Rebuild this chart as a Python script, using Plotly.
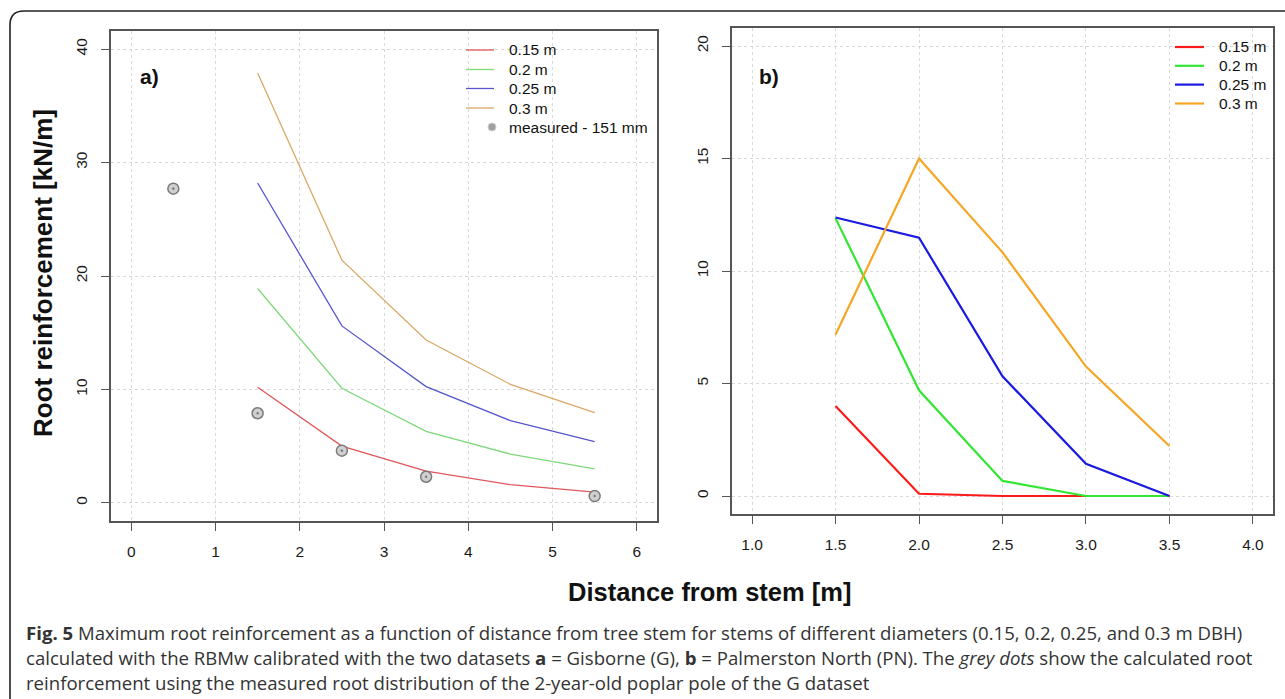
import plotly.graph_objects as go

# ---------------- data ----------------
dist_a = [1.5, 2.5, 3.5, 4.5, 5.5]
a_015 = [10.2, 5.0, 2.8, 1.6, 0.95]
a_020 = [18.9, 10.1, 6.3, 4.3, 3.0]
a_025 = [28.2, 15.6, 10.25, 7.25, 5.4]
a_030 = [37.9, 21.4, 14.35, 10.45, 7.95]
meas_x = [0.5, 1.5, 2.5, 3.5, 5.5]
meas_y = [27.7, 7.9, 4.6, 2.3, 0.6]

dist_b = [1.5, 2.0, 2.5, 3.0, 3.5]
b_015 = [4.0, 0.1, 0.0, 0.0, 0.0]
b_020 = [12.35, 4.7, 0.67, 0.0, 0.0]
b_025 = [12.38, 11.48, 5.32, 1.43, 0.0]
b_030 = [7.17, 15.0, 10.83, 5.75, 2.22]

labels = ["0.15 m", "0.2 m", "0.25 m", "0.3 m"]
meas_label = "measured - 151 mm"

xticks_a = [0, 1, 2, 3, 4, 5, 6]
yticks_a = [0, 10, 20, 30, 40]
xticks_b = [1.0, 1.5, 2.0, 2.5, 3.0, 3.5, 4.0]
xticklabels_b = ["1.0", "1.5", "2.0", "2.5", "3.0", "3.5", "4.0"]
yticks_b = [0, 5, 10, 15, 20]

colors_a = ["#e0575a", "#7fd97b", "#5656cf", "#d9a865"]
colors_b = ["#ff1a1a", "#33e633", "#1a1ae0", "#f5a623"]
meas_fill = "#d0d0d0"
meas_edge = "#7a7a7a"

W, H = 1285, 699
FONT = "Liberation Sans, Arial, sans-serif"
CAP_FONT = "Open Sans"

fig = go.Figure()

for ys, lab, c in zip([a_015, a_020, a_025, a_030], labels, colors_a):
    fig.add_trace(go.Scatter(x=dist_a, y=ys, mode="lines", name=lab,
                             line=dict(color=c, width=1.3),
                             xaxis="x", yaxis="y"))
fig.add_trace(go.Scatter(x=meas_x, y=meas_y, mode="markers", name=meas_label,
                         marker=dict(symbol="circle-dot", size=11, color=meas_fill,
                                     line=dict(color=meas_edge, width=1.5)),
                         xaxis="x", yaxis="y"))

for ys, lab, c in zip([b_015, b_020, b_025, b_030], labels, colors_b):
    fig.add_trace(go.Scatter(x=dist_b, y=ys, mode="lines", name=lab,
                             line=dict(color=c, width=2.2),
                             xaxis="x2", yaxis="y2"))


def px(x):
    return x / W


def py(y):
    return 1 - y / H


axis_common = dict(
    showline=True, mirror=True, linecolor="#555555", linewidth=1.5,
    ticks="outside", ticklen=8, tickcolor="#555555", tickwidth=1.2,
    showgrid=True, gridcolor="#d9d9d9", griddash="dot", gridwidth=1,
    zeroline=False, tickfont=dict(family=FONT, size=15.5, color="#1a1a1a"),
    ticklabelstandoff=8,
)

fig.update_layout(
    width=W, height=H,
    margin=dict(l=0, r=0, t=0, b=0),
    paper_bgcolor="white", plot_bgcolor="white",
    showlegend=False,
    xaxis=dict(domain=[px(111), px(657)], range=[-0.24, 6.24],
               tickvals=xticks_a, anchor="y", **axis_common),
    yaxis=dict(domain=[py(521), py(31)], range=[-1.6, 41.6],
               tickvals=yticks_a, tickangle=-90, anchor="x", **axis_common),
    xaxis2=dict(domain=[px(732), px(1273)], range=[0.88, 4.12],
                tickvals=xticks_b, ticktext=xticklabels_b, anchor="y2", **axis_common),
    yaxis2=dict(domain=[py(514), py(28)], range=[-0.8, 20.8],
                tickvals=yticks_b, tickangle=-90, anchor="x2", **axis_common),
)

annotations = [
    dict(text="<b>a)</b>", x=px(138), y=py(76), xanchor="left", yanchor="middle",
         font=dict(family=FONT, size=21, color="#111")),
    dict(text="<b>b)</b>", x=px(757), y=py(76), xanchor="left", yanchor="middle",
         font=dict(family=FONT, size=21, color="#111")),
    dict(text="<b>Root reinforcement [kN/m]</b>", x=px(43), y=py(273), textangle=-90,
         xanchor="center", yanchor="middle", font=dict(family=FONT, size=26, color="#111")),
    dict(text="<b>Distance from stem [m]</b>", x=px(709), y=py(592),
         xanchor="center", yanchor="middle", font=dict(family=FONT, size=25.5, color="#111")),
]

cap_lines = [
    "<b>Fig. 5</b> Maximum root reinforcement as a function of distance from tree stem for stems of different diameters (0.15, 0.2, 0.25, and 0.3 m DBH)",
    "calculated with the RBMw calibrated with the two datasets <b>a</b> = Gisborne (G), <b>b</b> = Palmerston North (PN). The <i>grey dots</i> show the calculated root",
    "reinforcement using the measured root distribution of the 2-year-old poplar pole of the G dataset",
]
for i, t in enumerate(cap_lines):
    annotations.append(dict(text=t, x=px(24), y=py(632 + 25 * i), xanchor="left",
                            yanchor="middle",
                            font=dict(family=CAP_FONT, size=18.6, color="#333")))

shapes = []

# legend of panel a (drawn from labels / colours)
rows_a = [50, 69.5, 88.5, 108, 127]
for lab, c, yy in zip(labels, colors_a, rows_a):
    shapes.append(dict(type="line", xref="paper", yref="paper",
                       x0=px(466), x1=px(494), y0=py(yy), y1=py(yy),
                       line=dict(color=c, width=1.3)))
    annotations.append(dict(text=lab, x=px(507), y=py(yy), xanchor="left", yanchor="middle",
                            font=dict(family=FONT, size=15.5, color="#111")))
shapes.append(dict(type="circle", xref="paper", yref="paper",
                   x0=px(492 - 4), x1=px(492 + 4), y0=py(rows_a[4] - 4), y1=py(rows_a[4] + 4),
                   fillcolor="#a0a0a0", line=dict(color=meas_fill, width=1)))
annotations.append(dict(text=meas_label, x=px(507), y=py(rows_a[4]), xanchor="left",
                        yanchor="middle", font=dict(family=FONT, size=15.5, color="#111")))

# legend of panel b
rows_b = [47, 65.8, 84.6, 103.5]
for lab, c, yy in zip(labels, colors_b, rows_b):
    shapes.append(dict(type="line", xref="paper", yref="paper",
                       x0=px(1175), x1=px(1204), y0=py(yy), y1=py(yy),
                       line=dict(color=c, width=2.2)))
    annotations.append(dict(text=lab, x=px(1217), y=py(yy), xanchor="left", yanchor="middle",
                            font=dict(family=FONT, size=15.5, color="#111")))

for a in annotations:
    a.update(xref="paper", yref="paper", showarrow=False)

# outer rounded frame (open to the right and bottom)
r = 14
x0, y0 = 10, 11
path = (f"M {px(x0)},{py(H + 5)} L {px(x0)},{py(y0 + r)} "
        f"Q {px(x0)},{py(y0)} {px(x0 + r)},{py(y0)} L {px(W + 5)},{py(y0)}")
shapes.append(dict(type="path", path=path, xref="paper", yref="paper",
                   line=dict(color="#222", width=1.6)))

fig.update_layout(annotations=annotations, shapes=shapes)

fig.write_html("out.html",
               config={"displayModeBar": False},
               post_script="document.body.style.margin='0';document.body.style.overflow='hidden';")
